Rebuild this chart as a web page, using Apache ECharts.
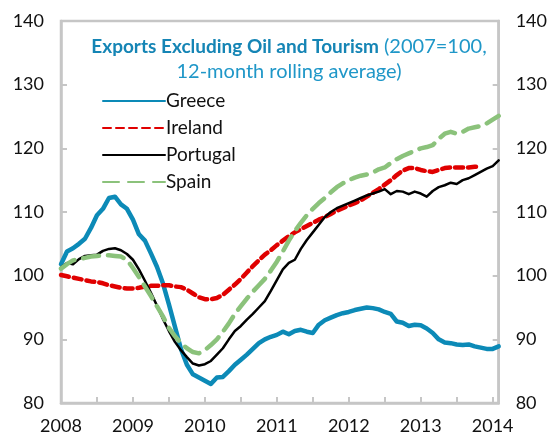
<!DOCTYPE html>
<html>
<head>
<meta charset="utf-8">
<script src="https://cdn.jsdelivr.net/npm/echarts@6/dist/echarts.min.js"></script>
<style>
  html, body { margin: 0; padding: 0; background: #fff; }
  #main { width: 550px; height: 437px; }
</style>
</head>
<body>
<div id="main"></div>
<script>
// monthly, Jan 2008 .. Feb 2014
var months = [];
for (var y = 2008; y <= 2014; y++) {
  for (var mo = 1; mo <= 12; mo++) {
    if (y === 2014 && mo > 2) break;
    months.push(y + '-' + (mo < 10 ? '0' + mo : mo));
  }
}

// 2007 = 100, 12-month rolling average
var greece = [
  101.8, 103.8, 104.3, 105.0, 105.8, 107.5, 109.5, 110.5, 112.2, 112.4, 111.2, 110.5,
  108.8, 106.5, 105.5, 103.5, 101.4, 98.8, 95.5, 92.0, 88.5, 86.0, 84.5, 84.0,
  83.5, 83.0, 84.0, 84.1, 85.0, 86.0, 86.8, 87.6, 88.5, 89.4, 90.0, 90.4,
  90.7, 91.2, 90.8, 91.3, 91.5, 91.2, 91.0, 92.3, 93.0, 93.4, 93.8, 94.1,
  94.3, 94.6, 94.8, 95.0, 94.9, 94.7, 94.3, 94.0, 92.8, 92.6, 92.1, 92.3,
  92.2, 91.7, 91.0, 90.0, 89.5, 89.4, 89.2, 89.1, 89.2, 88.9, 88.7, 88.5,
  88.5, 88.9
];
var ireland = [
  100.1, 99.9, 99.7, 99.5, 99.3, 99.1, 99.0, 98.8, 98.5, 98.3, 98.1, 98.0,
  98.0, 98.1, 98.3, 98.4, 98.4, 98.5, 98.5, 98.3, 98.2, 97.8, 97.2, 96.6,
  96.3, 96.3, 96.5, 97.0, 97.8, 98.6, 99.5, 100.5, 101.5, 102.4, 103.3, 104.0,
  104.8, 105.5, 106.2, 106.8, 107.3, 107.8, 108.3, 108.8, 109.2, 109.7, 110.2, 110.6,
  111.0, 111.4, 111.8, 112.4, 113.0, 113.6, 114.3, 115.0, 115.8, 116.5, 116.9, 116.9,
  116.6, 116.4, 116.3, 116.6, 116.9, 117.0, 117.0, 117.0, 117.0, 117.1, 117.2, null,
  null, null
];
var portugal = [
  101.3, 102.0, 101.8, 102.6, 103.1, 103.2, 103.3, 103.9, 104.2, 104.3, 104.0, 103.4,
  102.5, 101.0, 99.2, 97.3, 95.3, 93.2, 91.3, 89.6, 88.3, 87.2, 86.2, 85.9,
  86.1, 86.6, 87.6, 88.6, 90.0, 91.3, 92.1, 93.1, 94.0, 95.0, 96.0, 97.6,
  99.3, 101.0, 102.0, 102.5, 104.2, 105.6, 106.8, 108.0, 109.2, 110.0, 110.6, 111.0,
  111.4, 111.8, 112.2, 112.6, 112.9, 113.2, 113.6, 112.8, 113.3, 113.2, 112.8, 113.2,
  112.9, 112.4, 113.3, 113.9, 114.2, 114.6, 114.4, 115.0, 115.3, 115.8, 116.3, 116.8,
  117.2, 118.1
];
var spain = [
  101.1, 101.8, 102.4, 102.6, 102.8, 103.0, 103.1, 103.2, 103.2, 103.1, 103.0, 102.5,
  101.2, 99.8, 98.3, 96.8, 95.2, 93.6, 91.8, 90.5, 89.4, 88.6, 88.0, 87.8,
  88.3, 89.1, 90.0, 91.2, 92.5, 94.0, 95.2, 96.4, 97.5, 98.5, 99.5, 100.8,
  102.2, 103.8, 105.5, 107.0, 108.3, 109.5, 110.5, 111.4, 112.2, 113.1, 113.9, 114.5,
  115.0, 115.4, 115.7, 115.9, 116.2, 116.7, 117.0, 117.7, 118.3, 118.8, 119.2, 119.6,
  120.0, 120.2, 120.5, 121.5, 122.3, 122.6, 122.3, 122.6, 123.1, 123.3, 123.5, 123.9,
  124.5, 125.1
];

var FONT = 'Lato';
var GRAY = '#c6c6c6';

var chart = echarts.init(document.getElementById('main'));

//共用的y轴设置
function yAxis(pos) {
  return {
    type: 'value',
    position: pos,
    min: 80,
    max: 140,
    interval: 10,
    splitLine: { show: false },
    axisLine: { show: true, lineStyle: { color: GRAY, width: 2.5 } },
    axisTick: { show: true, inside: true, length: 6, lineStyle: { color: GRAY, width: 2 } },
    axisLabel: { margin: 17, color: '#111', fontFamily: FONT, fontSize: 18 }
  };
}

function lineSeries(name, data, color, width, dash) {
  return {
    name: name,
    type: 'line',
    data: data,
    showSymbol: false,
    symbol: 'none',
    connectNulls: false,
    lineStyle: { color: color, width: width, type: dash || 'solid', cap: 'round', join: 'round' },
    itemStyle: { color: color }
  };
}

chart.setOption({
  backgroundColor: '#fff',
  animation: false,
  title: {
    left: 284,
    top: 29,
    textAlign: 'center',
    text: '{b|Exports Excluding Oil and Tourism} {n|(2007=100,}\n{n|12-month rolling average)}',
    textStyle: {
      lineHeight: 25,
      fontWeight: 'normal',
      rich: {
        b: { fontFamily: FONT, fontSize: 19, fontWeight: 'bold', color: '#1585b5', align: 'center', lineHeight: 25 },
        n: { fontFamily: FONT, fontSize: 20, fontWeight: 'normal', color: '#1f97c8', align: 'center', lineHeight: 25 }
      }
    }
  },
  legend: {
    orient: 'vertical',
    left: 97,
    top: 85,
    itemWidth: 62,
    itemHeight: 16,
    itemGap: 5,
    itemStyle: { opacity: 0 },
    textStyle: { fontFamily: FONT, fontSize: 19, lineHeight: 22, color: '#111', padding: [0, 0, 0, -4] },
    data: ['Greece', 'Ireland', 'Portugal', 'Spain']
  },
  grid: {
    left: 61,
    right: 50,
    top: 21,
    bottom: 34,
    show: true,
    borderColor: GRAY,
    borderWidth: 2.5
  },
  xAxis: {
    type: 'category',
    data: months,
    boundaryGap: false,
    axisLine: { show: true, lineStyle: { color: GRAY, width: 2.5 } },
    axisTick: {
      show: true,
      inside: true,
      length: 6,
      interval: function (i) { return i % 6 === 0; },
      lineStyle: { color: GRAY, width: 2 }
    },
    axisLabel: {
      margin: 14,
      color: '#111',
      fontFamily: FONT,
      fontSize: 18,
      interval: function (i) { return i % 12 === 0; },
      formatter: function (v) { return v.slice(0, 4); }
    }
  },
  yAxis: [yAxis('left'), yAxis('right')],
  series: [
    lineSeries('Greece', greece, '#0c8ab7', 4.5),
    lineSeries('Ireland', ireland, '#e00000', 4.5, [8, 5]),
    lineSeries('Portugal', portugal, '#000000', 2.5),
    lineSeries('Spain', spain, '#8bc27b', 4.5, [16, 9])
  ]
});
</script>
</body>
</html>
